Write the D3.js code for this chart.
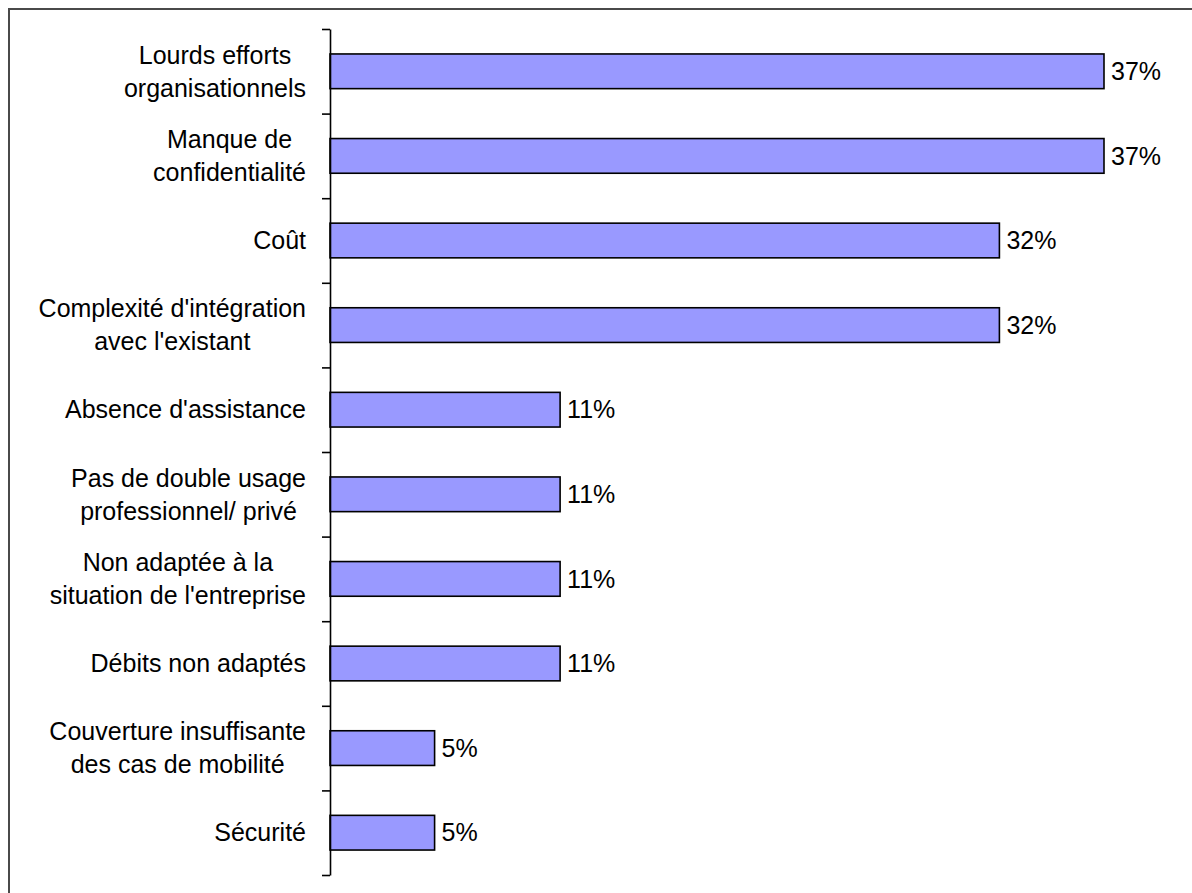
<!DOCTYPE html>
<html>
<head>
<meta charset="utf-8">
<script src="https://cdn.jsdelivr.net/npm/d3@7"></script>
<style>
  html, body { margin: 0; padding: 0; background: #fff; }
  svg { display: block; }
  text { font-family: "Liberation Sans", Arial, sans-serif; fill: #000; }
</style>
</head>
<body>
<svg id="chart" width="1192" height="893"></svg>
<script>
// Obstacles cités (part des répondants)
const categories = [
  "Lourds efforts organisationnels",
  "Manque de confidentialité",
  "Coût",
  "Complexité d'intégration avec l'existant",
  "Absence d'assistance",
  "Pas de double usage professionnel/ privé",
  "Non adaptée à la situation de l'entreprise",
  "Débits non adaptés",
  "Couverture insuffisante des cas de mobilité",
  "Sécurité"
];
// Libellés de l'axe, découpés en lignes
const labelLines = [
  ["Lourds efforts", "organisationnels"],
  ["Manque de", "confidentialité"],
  ["Coût"],
  ["Complexité d'intégration", "avec l'existant"],
  ["Absence d'assistance"],
  ["Pas de double usage", "professionnel/ privé"],
  ["Non adaptée à la", "situation de l'entreprise"],
  ["Débits non adaptés"],
  ["Couverture insuffisante", "des cas de mobilité"],
  ["Sécurité"]
];
const values = [37, 37, 32, 32, 11, 11, 11, 11, 5, 5];

const svg = d3.select("#chart");
const W = 1192, H = 893;

// cadre
svg.append("rect")
  .attr("x", 9).attr("y", 9)
  .attr("width", W + 20).attr("height", H + 20)
  .attr("fill", "none").attr("stroke", "#4a4a4a").attr("stroke-width", 2);

const axisX = 330, plotTop = 29, plotBottom = 875;

const x = d3.scaleLinear().domain([0, 37]).range([axisX, axisX + 774]);
const y = d3.scaleBand().domain(categories).range([plotTop, plotBottom])
  .paddingInner(0.59).paddingOuter(0.295);

// barres
svg.append("g").selectAll("rect")
  .data(values)
  .join("rect")
  .attr("x", x(0))
  .attr("y", (d, i) => y(categories[i]))
  .attr("width", d => x(d) - x(0))
  .attr("height", y.bandwidth())
  .attr("fill", "#9999ff")
  .attr("stroke", "#000")
  .attr("stroke-width", 1.6);

// axe vertical avec graduations entre les catégories
const yb = d3.scaleLinear().domain([0, categories.length]).range([plotTop, plotBottom]);
const axis = svg.append("g")
  .attr("transform", `translate(${axisX},0)`)
  .call(d3.axisLeft(yb).tickValues(d3.range(categories.length + 1))
    .tickSize(8).tickSizeOuter(0).tickFormat(""));
axis.selectAll("path, line").attr("stroke", "#000").attr("stroke-width", 1.6);

// libellés des catégories (lignes centrées, bloc aligné à droite)
const fs = 25, lh = 33, rightEdge = 306;
labelLines.forEach((lines, i) => {
  const cy = y(categories[i]) + y.bandwidth() / 2;
  const g = svg.append("g");
  const texts = lines.map((s, j) => g.append("text")
    .attr("font-size", fs)
    .attr("text-anchor", "middle")
    .attr("y", cy + (j - (lines.length - 1) / 2) * lh)
    .attr("dy", "0.35em")
    .text(s));
  const maxW = d3.max(texts, t => t.node().getComputedTextLength());
  texts.forEach(t => t.attr("x", rightEdge - maxW / 2));
});

// valeurs
svg.append("g").selectAll("text")
  .data(values)
  .join("text")
  .attr("x", d => x(d) + 7)
  .attr("y", (d, i) => y(categories[i]) + y.bandwidth() / 2)
  .attr("dy", "0.35em")
  .attr("font-size", fs)
  .text(d => d + "%");
</script>
</body>
</html>
